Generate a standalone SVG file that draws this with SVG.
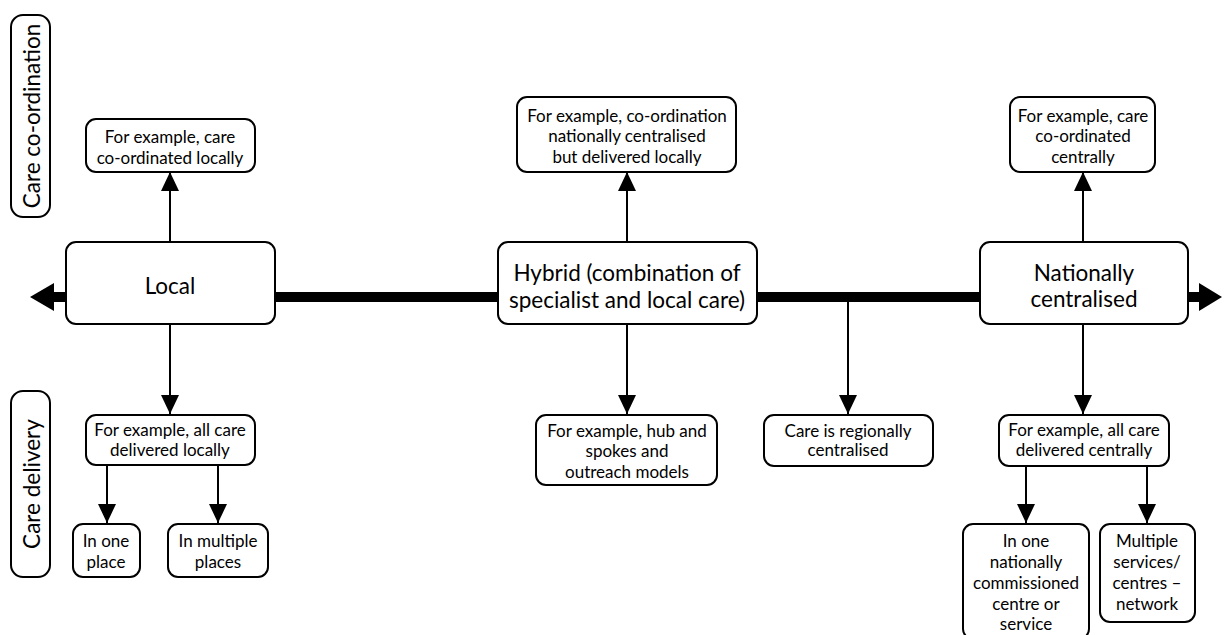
<svg xmlns="http://www.w3.org/2000/svg" width="1224" height="635" viewBox="0 0 1224 635">
  <style>
    .box { fill: #ffffff; stroke: #000000; stroke-width: 2; }
    .lbl { font-family: Lato, "Open Sans", "Liberation Sans", sans-serif; fill: #000000; text-anchor: middle; dominant-baseline: central; }
    .s { font-size: 17px; }
    .l { font-size: 22.5px; }
    .conn { stroke: #000000; stroke-width: 2; fill: none; marker-end: url(#head); }
    .axis { stroke: #000000; stroke-width: 10; fill: none; }
  </style>
  <defs>
    <marker id="head" viewBox="0 0 19 18" refX="19" refY="9" markerWidth="19" markerHeight="18" markerUnits="userSpaceOnUse" orient="auto">
      <path d="M0,0 L19,9 L0,18 Z" fill="#000000"/>
    </marker>
  </defs>

  <!-- Main axis with double arrowheads -->
  <g id="axis">
    <line class="axis" x1="50" y1="297" x2="1203" y2="297"/>
    <polygon points="30,297 54,283 54,311" fill="#000000"/>
    <polygon points="1222,297 1199,283 1199,311" fill="#000000"/>
  </g>

  <!-- Connectors -->
  <g id="connectors">
    <line class="conn" x1="170" y1="242" x2="170" y2="172"/>
    <line class="conn" x1="170" y1="324" x2="170" y2="414"/>
    <line class="conn" x1="107" y1="465" x2="107" y2="523"/>
    <line class="conn" x1="218" y1="465" x2="218" y2="523"/>
    <line class="conn" x1="627" y1="242" x2="627" y2="172"/>
    <line class="conn" x1="627" y1="324" x2="627" y2="414"/>
    <line class="conn" x1="848" y1="301" x2="848" y2="414"/>
    <line class="conn" x1="1083" y1="242" x2="1083" y2="172"/>
    <line class="conn" x1="1083" y1="324" x2="1083" y2="414"/>
    <line class="conn" x1="1026" y1="466" x2="1026" y2="523"/>
    <line class="conn" x1="1147" y1="466" x2="1147" y2="523"/>
  </g>

  <!-- Side labels -->
  <g id="label-coordination">
    <rect class="box" x="11" y="15" width="39" height="202" rx="12"/>
    <text class="lbl l" transform="translate(31,116) rotate(-90)">Care co-ordination</text>
  </g>
  <g id="label-delivery">
    <rect class="box" x="11" y="391" width="39" height="186" rx="12"/>
    <text class="lbl l" transform="translate(31,484) rotate(-90)">Care delivery</text>
  </g>

  <!-- Local column -->
  <g id="local">
    <rect class="box" x="66" y="242" width="209" height="82" rx="10"/>
    <text class="lbl l" x="170" y="285">Local</text>
  </g>
  <g id="local-coord">
    <rect class="box" x="86" y="119" width="169" height="53" rx="10"/>
    <text class="lbl s" x="170" y="136">For example, care</text>
    <text class="lbl s" x="170" y="157">co-ordinated locally</text>
  </g>
  <g id="local-delivery">
    <rect class="box" x="86" y="415" width="169" height="50" rx="10"/>
    <text class="lbl s" x="170" y="429">For example, all care</text>
    <text class="lbl s" x="170" y="449">delivered locally</text>
  </g>
  <g id="local-one">
    <rect class="box" x="73" y="524" width="67" height="53" rx="10"/>
    <text class="lbl s" x="106" y="540">In one</text>
    <text class="lbl s" x="106" y="561">place</text>
  </g>
  <g id="local-multiple">
    <rect class="box" x="168" y="524" width="100" height="53" rx="10"/>
    <text class="lbl s" x="218" y="540">In multiple</text>
    <text class="lbl s" x="218" y="561">places</text>
  </g>

  <!-- Hybrid column -->
  <g id="hybrid">
    <rect class="box" x="498" y="242" width="259" height="82" rx="10"/>
    <text class="lbl l" x="627" y="272">Hybrid (combination of</text>
    <text class="lbl l" x="627" y="299">specialist and local care)</text>
  </g>
  <g id="hybrid-coord">
    <rect class="box" x="517" y="97" width="219" height="75" rx="10"/>
    <text class="lbl s" x="627" y="115">For example, co-ordination</text>
    <text class="lbl s" x="627" y="135">nationally centralised</text>
    <text class="lbl s" x="627" y="156">but delivered locally</text>
  </g>
  <g id="hybrid-delivery">
    <rect class="box" x="536" y="415" width="181" height="70" rx="10"/>
    <text class="lbl s" x="627" y="430">For example, hub and</text>
    <text class="lbl s" x="627" y="450">spokes and</text>
    <text class="lbl s" x="627" y="471">outreach models</text>
  </g>
  <g id="regional">
    <rect class="box" x="764" y="415" width="169" height="51" rx="10"/>
    <text class="lbl s" x="848" y="430">Care is regionally</text>
    <text class="lbl s" x="848" y="449">centralised</text>
  </g>

  <!-- Nationally centralised column -->
  <g id="national">
    <rect class="box" x="980" y="242" width="208" height="82" rx="10"/>
    <text class="lbl l" x="1084" y="272">Nationally</text>
    <text class="lbl l" x="1084" y="298">centralised</text>
  </g>
  <g id="national-coord">
    <rect class="box" x="1010" y="97" width="145" height="75" rx="10"/>
    <text class="lbl s" x="1083" y="115">For example, care</text>
    <text class="lbl s" x="1083" y="135">co-ordinated</text>
    <text class="lbl s" x="1083" y="156">centrally</text>
  </g>
  <g id="national-delivery">
    <rect class="box" x="999" y="415" width="170" height="51" rx="10"/>
    <text class="lbl s" x="1084" y="429">For example, all care</text>
    <text class="lbl s" x="1084" y="449">delivered centrally</text>
  </g>
  <g id="national-one">
    <rect class="box" x="963" y="524" width="126" height="115" rx="10"/>
    <text class="lbl s" x="1026" y="540">In one</text>
    <text class="lbl s" x="1026" y="561">nationally</text>
    <text class="lbl s" x="1026" y="582">commissioned</text>
    <text class="lbl s" x="1026" y="603">centre or</text>
    <text class="lbl s" x="1026" y="623">service</text>
  </g>
  <g id="national-network">
    <rect class="box" x="1100" y="524" width="95" height="98" rx="10"/>
    <text class="lbl s" x="1147" y="540">Multiple</text>
    <text class="lbl s" x="1147" y="561">services/</text>
    <text class="lbl s" x="1147" y="582">centres –</text>
    <text class="lbl s" x="1147" y="603">network</text>
  </g>
</svg>
